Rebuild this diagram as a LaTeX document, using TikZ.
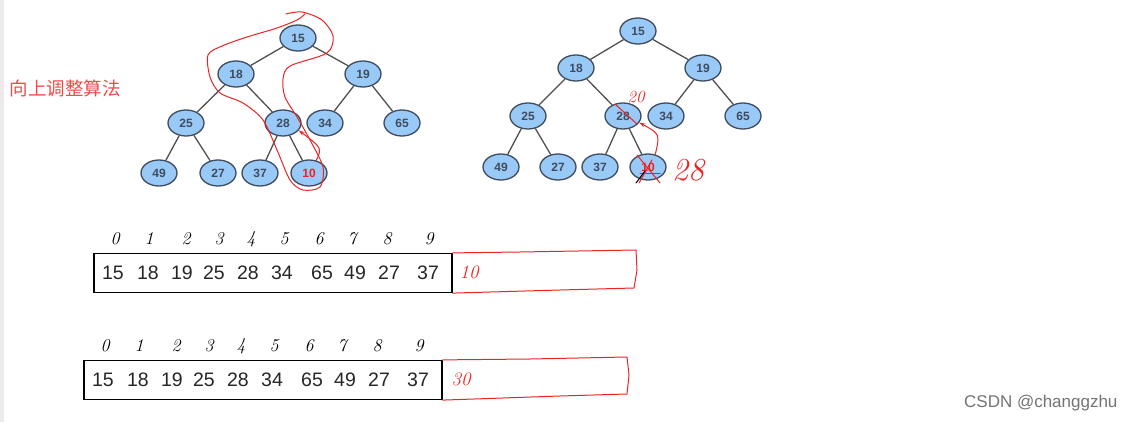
\documentclass[tikz,border=0pt]{standalone}
\usepackage{fontspec}
\newfontfamily\sans{Liberation Sans}
\newfontfamily\cjk{Noto Sans CJK SC}
\usetikzlibrary{shapes.geometric,arrows.meta}
\definecolor{nodeblue}{HTML}{99C9F7}
\definecolor{nodeline}{HTML}{3E4C5E}
\definecolor{edgegray}{HTML}{505050}
\definecolor{penred}{HTML}{EE2222}
\definecolor{titlered}{HTML}{F24A4A}
\tikzset{
    heapnode/.style={ellipse,draw=nodeline,line width=1.3pt,fill=nodeblue,minimum width=36pt,minimum height=26pt,inner sep=0pt,font=\sans\fontsize{12}{12}\selectfont\bfseries,text=nodeline},
    heapedge/.style={draw=edgegray,line width=1.3pt},
    arrbox/.style={draw,line width=1.2pt,minimum width=358pt,minimum height=39pt,inner sep=0pt},
    arrnum/.style={font=\sans\fontsize{19.5}{20}\selectfont,text=black!85},
    idx/.style={font=\fontsize{18}{18}\selectfont\itshape},
    pen/.style={penred,line width=1pt,line cap=round,line join=round},
    pentext/.style={text=penred,font=\fontsize{19}{19}\selectfont\itshape},
}
\begin{document}
\begin{tikzpicture}[x=1pt,y=-1pt]
    \useasboundingbox (0,0) rectangle (1135,422);
    \fill[black!8] (0,0) rectangle (4,422);
    \node[font=\cjk\fontsize{18.5}{18.5}\selectfont,text=titlered,anchor=west] (title) at (6,88) {向上调整算法};
    % first tree
    \node[heapnode] (a0) at (298,38) {15};
    \node[heapnode] (a1) at (236,74) {18};
    \node[heapnode] (a2) at (363,74) {19};
    \node[heapnode] (a3) at (186,123) {25};
    \node[heapnode] (a4) at (283,123) {28};
    \node[heapnode] (a5) at (325,123) {34};
    \node[heapnode] (a6) at (402,123) {65};
    \node[heapnode] (a7) at (159,173) {49};
    \node[heapnode] (a8) at (218,173) {27};
    \node[heapnode] (a9) at (260,173) {37};
    \node[heapnode,text=penred] (a10) at (309,173) {10};
    \foreach \p/\c in {a0/a1,a0/a2,a1/a3,a1/a4,a2/a5,a2/a6,a3/a7,a3/a8,a4/a9,a4/a10} {
        \draw[heapedge] (\p) -- (\c);
    }
    \draw[pen] plot[smooth] coordinates {(286,14) (302,12) (322,20) (333,36) (327,53) (290,66) (283,79) (285,97) (297,117) (310,140) (323,167) (320,187) (303,190) (290,180) (277,150) (263,120) (243,103) (220,93) (210,77) (208,55) (222,46) (247,37) (277,28) (297,20) (305,14)};
    \draw[pen,-{Stealth[length=6pt,width=4pt]}] (a10.60) .. controls (322,148) .. (a4.-25);
    % second tree
    \node[heapnode] (b0) at (638,31) {15};
    \node[heapnode] (b1) at (576,68) {18};
    \node[heapnode] (b2) at (703,68) {19};
    \node[heapnode] (b3) at (528,116) {25};
    \node[heapnode] (b4) at (623,116) {28};
    \node[heapnode] (b5) at (666,116) {34};
    \node[heapnode] (b6) at (743,116) {65};
    \node[heapnode] (b7) at (501,167) {49};
    \node[heapnode] (b8) at (558,167) {27};
    \node[heapnode] (b9) at (600,167) {37};
    \node[heapnode,text=penred] (b10) at (648,167) {10};
    \foreach \p/\c in {b0/b1,b0/b2,b1/b3,b1/b4,b2/b5,b2/b6,b3/b7,b3/b8,b4/b9,b4/b10} {
        \draw[heapedge] (\p) -- (\c);
    }
    \draw[pen] (615,104) -- (637,124);
    \draw[pen] (637,155) -- (660,183);
    \draw[pen] (652,160) -- (639,183);
    \draw[pen] (640,174) -- (660,174);
    \draw[line width=1pt,line cap=round] (636,183) -- (645,171);
    \draw[pen,-{Stealth[length=6pt,width=4pt]}] (b10.60) .. controls (660,134) .. (b4.-22);
    \node[pentext,font=\fontsize{17}{17}\selectfont\itshape] (b4new) at (636,97) {20};
    \node[pentext,font=\fontsize{32}{32}\selectfont\itshape] (b10new) at (688,170) {28};
    % first array
    \node[arrbox] (box1) at (273,273) {};
    \foreach \x/\v [count=\i from 0] in {113/15,148/18,182/19,214/25,248/28,282/34,322/65,355/49,389/27,428/37} {
        \node[arrnum] (p\i) at (\x,273) {\v};
    }
    \foreach \x/\v in {115/0,149/1,186/2,219/3,251/4,284/5,319/6,352/7,387/8,429/9} {
        \node[idx] (i\v) at (\x,239) {\v};
    }
    \draw[pen] (box1.north east) -- (520,252) -- (636,250) -- (637,270) -- (634,288) -- (560,290) -- (box1.south east);
    \node[pentext] (p10) at (469,272) {10};
    % second array
    \node[arrbox] (box2) at (263,380) {};
    \foreach \x/\v [count=\i from 0] in {103/15,138/18,172/19,204/25,238/28,272/34,312/65,345/49,379/27,418/37} {
        \node[arrnum] (q\i) at (\x,380) {\v};
    }
    \foreach \x/\v in {105/0,139/1,176/2,209/3,241/4,274/5,309/6,342/7,377/8,419/9} {
        \node[idx] (j\v) at (\x,346) {\v};
    }
    \draw[pen] (box2.north east) -- (530,359) -- (627,357) -- (629,375) -- (627,394) -- (560,396) -- (box2.south east);
    \node[pentext] (q10) at (461,379) {30};
    \node[font=\sans\fontsize{17}{17}\selectfont,text=black!55,anchor=east] (mark) at (1121,403) {CSDN @changgzhu};
\end{tikzpicture}
\end{document}
